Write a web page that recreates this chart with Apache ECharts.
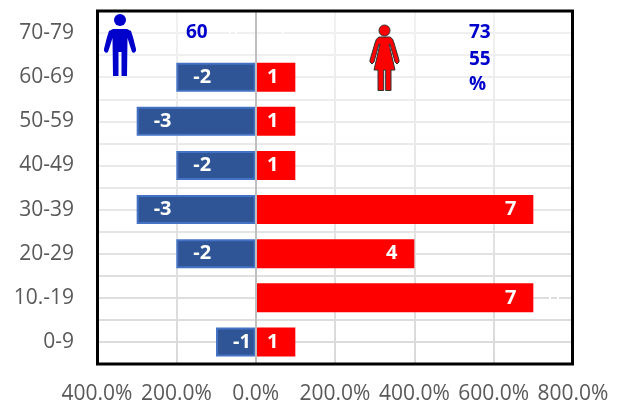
<!DOCTYPE html>
<html>
<head>
<meta charset="utf-8">
<style>html,body{margin:0;padding:0;background:#fff}#chart{width:624px;height:405px}</style>
<script src="https://cdn.jsdelivr.net/npm/echarts@6/dist/echarts.min.js"></script>
</head>
<body>
<div id="chart"></div>
<script>
// bottom to top, same order as the value arrays
var ageGroups = ['0-9', '10.-19', '20-29', '30-39', '40-49', '50-59', '60-69', '70-79'];
var menValues = [-1, null, -2, -3, -2, -3, -2, null];
var womenValues = [1, 7, 4, 7, 1, 1, 1, null];

var FONT = '"Open Sans", sans-serif';
var myChart = echarts.init(document.getElementById('chart'), null, {renderer: 'canvas'});

// the two pictograms pasted on the sheet
var manBody = [[113,29],[127,29],[131,31],[133,37],[136,49],[136,51],[134,53],[132,52],[130,46],[127.5,38],[127,76],[121.5,76],[121.5,52],[118.5,52],[118.5,76],[113,76],[112.5,38],[110,46],[108,52],[106,53],[104,51],[104,49],[107,37],[109,31]];
var womanBody = [[379,37],[390,37],[392.5,39],[394,43],[399,60],[399,62],[397,64],[395,62],[390,44],[389,44],[395,70],[391,70],[391,90.5],[385.7,90.5],[385.7,70],[383.7,70],[383.7,90.5],[378,90.5],[378,70],[374,70],[380,44],[379,44],[374,62],[372,64],[370,62],[370,60],[375,43],[376.5,39]];

// gridlines fade out towards the top of the picture
var rowLineColors = ['#dadada', '#dcdcdc', '#dddddd', '#dedede', '#e0e0e0', '#e2e2e2', '#e4e4e4', '#e6e6e6', '#e8e8e8', '#e9e9e9', '#eaeaea', '#ebebeb', '#ededed', '#eeeeee', '#efefef', '#f0f0f0', '#f2f2f2'];

function blueText(text, x, y) {
  return {type: 'text', x: x, y: y, style: {text: text, fill: '#0000cc', font: 'bold 19px ' + FONT, textVerticalAlign: 'middle'}, z: 10};
}
function whiteDash(x, y) {
  return {type: 'rect', shape: {x: x, y: y - 1.5, width: 2, height: 3}, style: {fill: '#fff'}, z: 2};
}

myChart.setOption({
  animation: false,
  grid: {left: 97, top: 11, width: 476, height: 353, show: false},
  xAxis: {
    type: 'value', min: -4, max: 8, interval: 2,
    axisLine: {show: false}, axisTick: {show: false},
    splitLine: {
      show: true,
      lineStyle: {
        width: 2,
        color: new echarts.graphic.LinearGradient(0, 11, 0, 364, [
          {offset: 0, color: '#f2f2f2'}, {offset: 1, color: '#d9d9d9'}
        ], true)
      }
    },
    axisLabel: {
      color: '#595959', fontFamily: FONT, fontSize: 21, margin: 20,
      formatter: function (v) { return Math.abs(v * 100).toFixed(1) + '%'; }
    }
  },
  yAxis: [
    {
      type: 'category', data: ageGroups, z: 5,
      axisLine: {onZero: true, lineStyle: {color: '#bfbfbf', width: 2}},
      axisTick: {show: false},
      splitLine: {show: false},
      axisLabel: {color: '#595959', fontFamily: FONT, fontSize: 21, margin: 23, interval: 0}
    },
    {
      // half-band lines, the sheet has one at every centre and every boundary
      type: 'value', min: 0, max: 16, interval: 1, position: 'right',
      axisLine: {show: false}, axisTick: {show: false}, axisLabel: {show: false},
      splitLine: {show: true, lineStyle: {color: rowLineColors, width: 2}}
    }
  ],
  series: [
    {
      name: 'men', type: 'bar', stack: 'age', yAxisIndex: 0, barWidth: 29, z: 3,
      data: menValues,
      itemStyle: {color: '#2f5597', borderColor: '#4472c4', borderWidth: 2},
      label: {
        show: true, position: 'insideLeft', distance: 17,
        color: '#fff', fontFamily: FONT, fontWeight: 'bold', fontSize: 20
      }
    },
    {
      name: 'women', type: 'bar', stack: 'age', yAxisIndex: 0, barWidth: 29, z: 3,
      data: womenValues,
      itemStyle: {color: '#ff0000'},
      label: {
        show: true, position: 'insideRight', distance: 17,
        color: '#fff', fontFamily: FONT, fontWeight: 'bold', fontSize: 20
      }
    }
  ],
  graphic: [
    {type: 'rect', shape: {x: 97.5, y: 11, width: 475, height: 353}, style: {fill: 'none', stroke: '#000', lineWidth: 3}, z: 10},
    {type: 'circle', shape: {cx: 120, cy: 20, r: 6}, style: {fill: '#0000cc'}, z: 10},
    {type: 'polygon', shape: {points: manBody}, style: {fill: '#0000cc'}, z: 10},
    {type: 'circle', shape: {cx: 384.5, cy: 30.5, r: 5.5}, style: {fill: '#ff0000', stroke: '#333', lineWidth: 1}, z: 10},
    {type: 'polygon', shape: {points: womanBody}, style: {fill: '#ff0000', stroke: '#333', lineWidth: 1}, z: 10},
    blueText('60', 186, 33),
    blueText('73', 469, 33),
    blueText('55', 469, 60),
    blueText('%', 469, 85),
    whiteDash(229, 32), whiteDash(235, 32), whiteDash(282, 32),
    whiteDash(549, 298), whiteDash(557, 298)
  ]
});
</script>
</body>
</html>
